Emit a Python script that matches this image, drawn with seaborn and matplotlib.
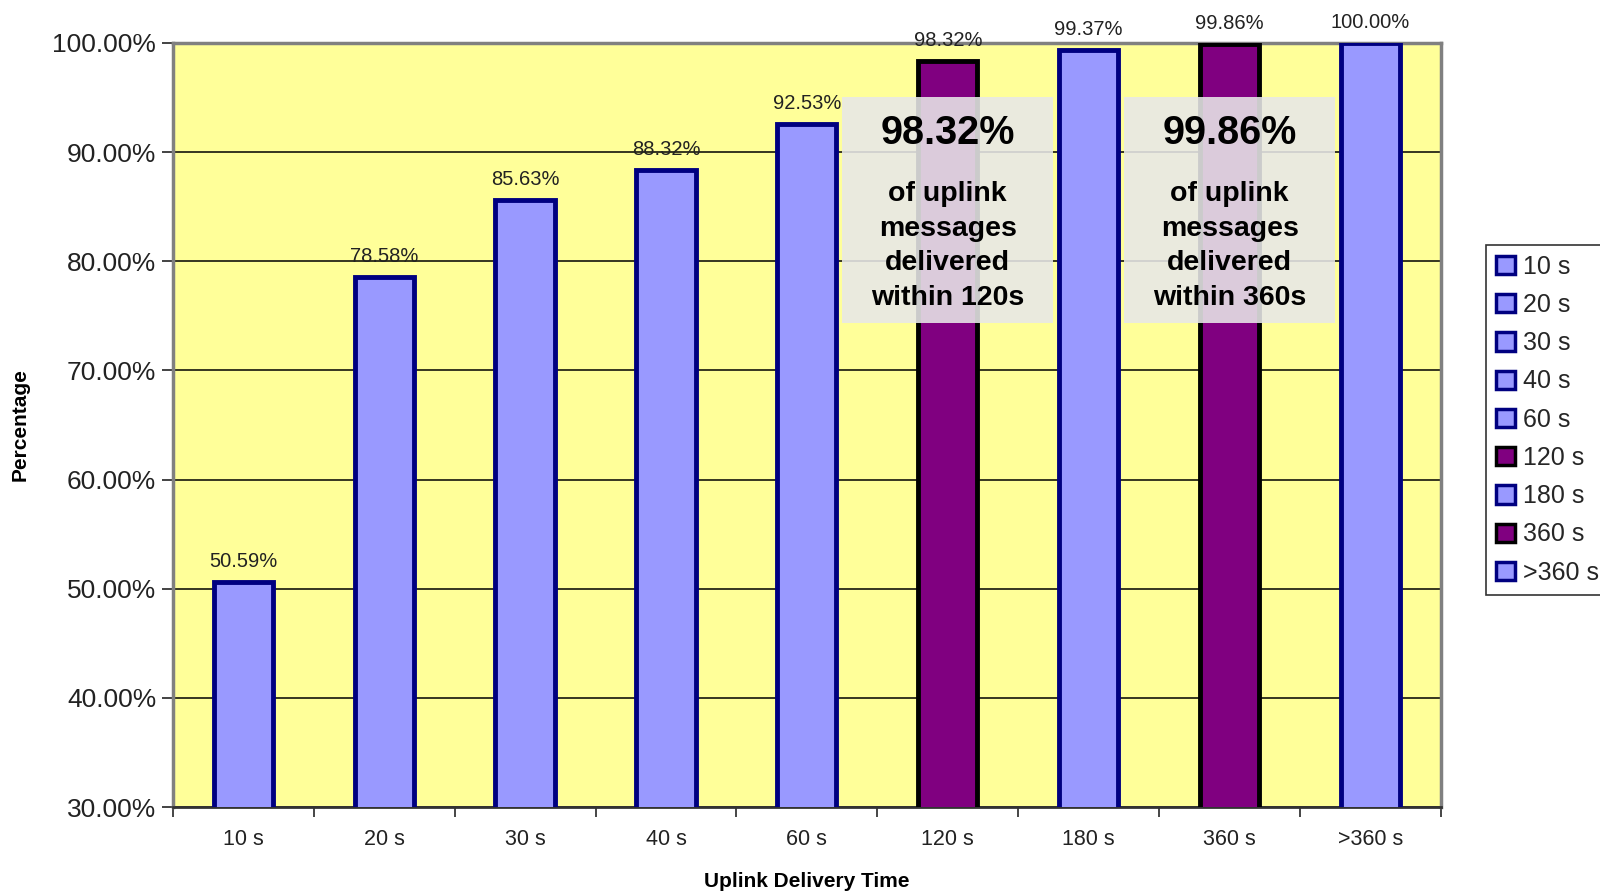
import matplotlib
matplotlib.use("Agg")
import matplotlib.pyplot as plt
from matplotlib.patches import Patch, Rectangle
from matplotlib.ticker import FixedLocator, FuncFormatter
import seaborn as sns

categories = ["10 s", "20 s", "30 s", "40 s", "60 s", "120 s", "180 s", "360 s", ">360 s"]
values = [50.59, 78.58, 85.63, 88.32, 92.53, 98.32, 99.37, 99.86, 100.00]
highlighted = ["120 s", "360 s"]
callouts = [("120 s", "98.32%", "of uplink\nmessages\ndelivered\nwithin 120s"),
            ("360 s", "99.86%", "of uplink\nmessages\ndelivered\nwithin 360s")]

LIGHT_BLUE, NAVY = "#9999FF", "#000080"
PURPLE, BLACK = "#800080", "#000000"
fills = [PURPLE if c in highlighted else LIGHT_BLUE for c in categories]
edges = [BLACK if c in highlighted else NAVY for c in categories]

sns.set_style("white")
plt.rcParams["font.family"] = ["Liberation Sans", "DejaVu Sans"]

fig = plt.figure(figsize=(16, 8.93), dpi=100)
ax = fig.add_axes([0.108, 0.0963, 0.7926, 0.8557])
ax.set_facecolor("#FFFF99")

sns.barplot(x=categories, y=values, hue=categories, palette=fills, legend=False,
            width=0.42, saturation=1, ax=ax)
for cont, ec in zip(ax.containers, edges):
    for bar in cont:
        bar.set_edgecolor(ec)
        bar.set_linewidth(3.5)
        bar.set_zorder(3)

ax.set_ylim(30, 100)
ax.set_xlim(-0.5, len(categories) - 0.5)
ax.set_yticks(range(30, 101, 10))
ax.yaxis.set_major_formatter(FuncFormatter(lambda v, _: f"{v:.2f}%"))
ax.yaxis.grid(True, color="black", linewidth=1.1)
ax.set_axisbelow(True)

# Excel-style category ticks between bars
ax.xaxis.set_minor_locator(FixedLocator([i - 0.5 for i in range(len(categories) + 1)]))
ax.tick_params(axis="x", which="major", length=0, labelsize=15.5, pad=16, colors="#222222")
ax.tick_params(axis="x", which="minor", length=7, width=1.2, direction="out", bottom=True)
ax.tick_params(axis="y", length=8, width=1.2, direction="out", left=True, labelsize=19,
               colors="#222222", pad=4)

for side in ["left", "top", "right"]:
    ax.spines[side].set_color("#808080")
    ax.spines[side].set_linewidth(2.5)
ax.spines["bottom"].set_color("#333333")
ax.spines["bottom"].set_linewidth(2)

ax.set_xlabel("Uplink Delivery Time", fontsize=15, fontweight="bold", labelpad=16, color="black")
ax.set_ylabel("Percentage", fontsize=15, fontweight="bold", labelpad=16, color="black")

for i, v in enumerate(values):
    ax.annotate(f"{v:.2f}%", (i, v), xytext=(0, 8), textcoords="offset points",
                ha="center", va="bottom", fontsize=14.5, color="#222222",
                zorder=6, annotation_clip=False)

for cat, big, small in callouts:
    xc = categories.index(cat)
    ax.add_patch(Rectangle((xc - 0.75, 74.35), 1.5, 20.7, facecolor="#E8E8E8",
                           alpha=0.88, edgecolor="none", zorder=4))
    ax.text(xc, 91.7, big, ha="center", va="center", fontsize=28.5,
            fontweight="bold", color="black", zorder=5)
    ax.text(xc, 81.4, small, ha="center", va="center", fontsize=20.5,
            fontweight="bold", color="black", linespacing=1.42, zorder=5)

handles = [Patch(facecolor=f, edgecolor=e, linewidth=2.5) for f, e in zip(fills, edges)]
leg = fig.legend(handles, categories, loc="upper left", bbox_to_anchor=(0.929, 0.726),
                 borderaxespad=0, fontsize=18, handlelength=0.75, handleheight=0.75,
                 handletextpad=0.3, labelspacing=0.57, borderpad=0.4, frameon=True,
                 fancybox=False)
leg.get_frame().set_edgecolor("black")
leg.get_frame().set_linewidth(1.2)

fig.savefig("out.png", dpi=100)
